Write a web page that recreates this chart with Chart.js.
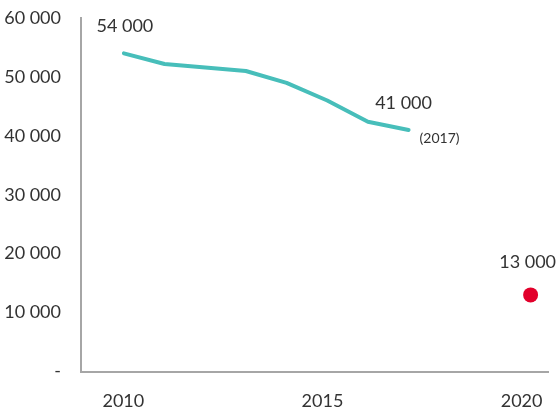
<!DOCTYPE html>
<html>
<head>
<meta charset="utf-8">
<script src="https://cdn.jsdelivr.net/npm/chart.js@4.4.1/dist/chart.umd.min.js"></script>
<style>
  html, body { margin: 0; padding: 0; background: #fff; }
  #wrap { width: 556px; height: 412px; position: relative; }
</style>
</head>
<body>
<div id="wrap"><canvas id="c" width="556" height="412"></canvas></div>
<script>
// Observed series, 2010–2017
const years = [2010, 2011, 2012, 2013, 2014, 2015, 2016, 2017];
const observed = [54000, 52200, 51600, 51000, 49000, 46000, 42400, 41000];

// 2020 target
const targetYears = [2020];
const targetValues = [13000];

// Axis tick labels
const xTickYears = [2010, 2015, 2020];
const yTickValues = [0, 10000, 20000, 30000, 40000, 50000, 60000];

const FONT = 'Lato, "Open Sans", sans-serif';
const TEXT = '#333333';
const AXIS = '#a6a6a6';

function fmt(v) {
  if (v === 0) return '-';
  return String(v).replace(/\B(?=(\d{3})+(?!\d))/g, ' ');
}

// Value labels beside the first/last observed points and the target
const valueLabels = {
  id: 'valueLabels',
  afterDatasetsDraw(chart) {
    const { ctx, scales } = chart;
    const x = scales.x, y = scales.y;
    ctx.save();
    ctx.fillStyle = TEXT;
    ctx.textAlign = 'center';
    ctx.textBaseline = 'middle';
    ctx.font = '18px ' + FONT;
    const first = 0, last = years.length - 1;
    ctx.fillText(fmt(observed[first]), x.getPixelForValue(years[first]) + 1, y.getPixelForValue(observed[first]) - 27);
    ctx.fillText(fmt(observed[last]), x.getPixelForValue(years[last]) - 5, y.getPixelForValue(observed[last]) - 27);
    ctx.fillText(fmt(targetValues[0]), x.getPixelForValue(targetYears[0]) - 3, y.getPixelForValue(targetValues[0]) - 33);
    ctx.font = '14px ' + FONT;
    ctx.fillText('(' + years[last] + ')', x.getPixelForValue(years[last]) + 31, y.getPixelForValue(observed[last]) + 9);
    ctx.restore();
  }
};

new Chart(document.getElementById('c'), {
  type: 'line',
  data: {
    datasets: [
      {
        data: years.map((yr, i) => ({ x: yr, y: observed[i] })),
        borderColor: '#47BEBA',
        borderWidth: 4,
        pointRadius: 0,
        tension: 0,
        borderCapStyle: 'round',
        borderJoinStyle: 'round',
        xAxisID: 'x',
        yAxisID: 'y'
      },
      {
        data: targetYears.map((yr, i) => ({ x: yr, y: targetValues[i] })),
        showLine: false,
        pointRadius: 7.5,
        pointBackgroundColor: '#E2002B',
        pointBorderWidth: 0,
        xAxisID: 'x',
        yAxisID: 'y'
      }
    ]
  },
  options: {
    responsive: false,
    animation: false,
    events: [],
    layout: { padding: { top: 18, right: 6, left: 0, bottom: 0 } },
    plugins: { legend: { display: false }, tooltip: { enabled: false } },
    scales: {
      x: {
        type: 'linear',
        display: false,
        min: 2008.946,
        max: 2020.44
      },
      xl: {
        type: 'linear',
        position: 'bottom',
        min: 2008.936,
        max: 2020.676,
        afterBuildTicks(scale) { scale.ticks = xTickYears.map(v => ({ value: v })); },
        afterFit(scale) {
          scale.height = 40.5;
          scale.paddingLeft = 0;
          scale.paddingRight = 0;
        },
        grid: { display: false, drawTicks: false },
        border: { display: true, color: AXIS, width: 2 },
        ticks: {
          padding: 19,
          color: TEXT,
          font: { family: FONT, size: 18 },
          maxRotation: 0,
          autoSkip: false,
          callback: v => String(v)
        }
      },
      y: {
        type: 'linear',
        min: 0,
        max: 60000,
        afterBuildTicks(scale) { scale.ticks = yTickValues.map(v => ({ value: v })); },
        afterFit(scale) {
          scale.width = 81;
          scale.paddingTop = 0;
          scale.paddingBottom = 0;
        },
        grid: { display: false, drawTicks: false },
        border: { display: true, color: AXIS, width: 2 },
        ticks: {
          padding: 20,
          color: TEXT,
          font: { family: FONT, size: 18 },
          callback: v => fmt(v)
        }
      }
    }
  },
  plugins: [valueLabels]
});
</script>
</body>
</html>
